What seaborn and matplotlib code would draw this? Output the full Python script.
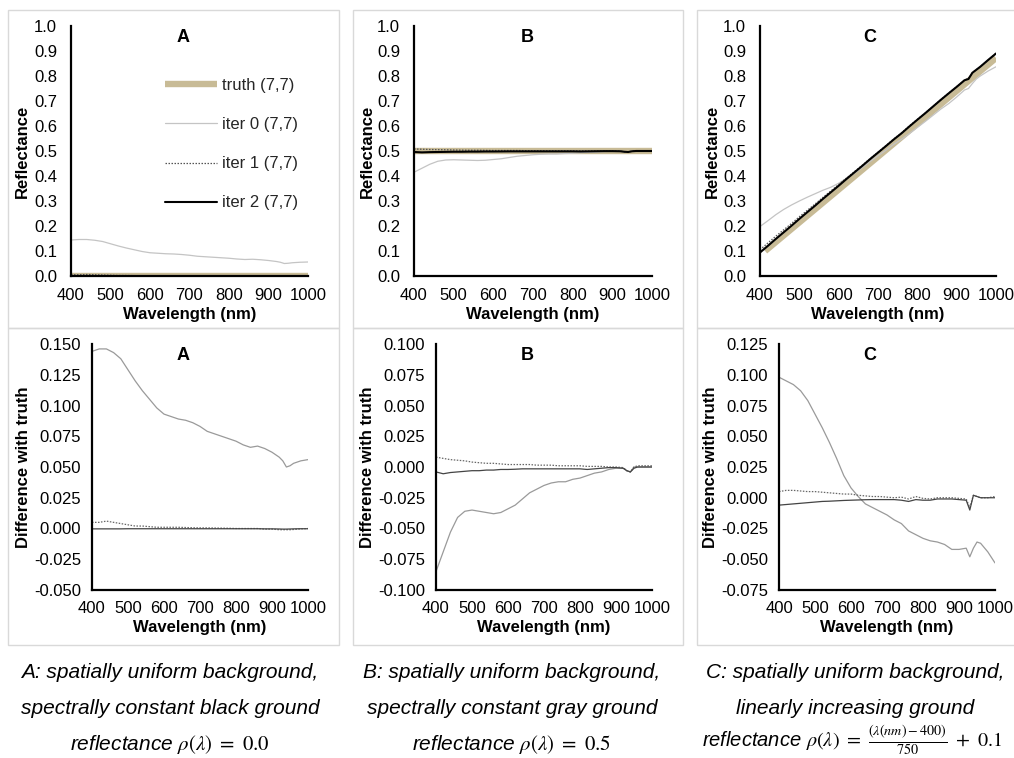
import matplotlib
matplotlib.use("Agg")
import matplotlib.pyplot as plt
from matplotlib.patches import Rectangle
from matplotlib.ticker import FormatStrFormatter, MultipleLocator
import seaborn as sns

# ---------------------------------------------------------------- data
wl = [400, 420, 440, 460, 480, 500, 520, 540, 560, 580, 600, 620, 640, 660, 680,
      700, 720, 740, 760, 780, 800, 820, 840, 860, 880, 900, 920, 930, 940, 950,
      960, 980, 1000]

# ground reflectance (truth) per scene
truth_A_wl = [400, 1000]
truth_A = [0.0, 0.0]
truth_B_wl = [400, 1000]
truth_B = [0.5, 0.5]
truth_C_wl = [413, 1000]
truth_C = [0.100, 0.872]

# linearly increasing ground of scene C, sampled at wl
ground_C = [0.100, 0.126, 0.153, 0.179, 0.205, 0.232, 0.258, 0.284, 0.311, 0.337,
            0.363, 0.390, 0.416, 0.442, 0.469, 0.495, 0.521, 0.548, 0.574, 0.600,
            0.627, 0.653, 0.679, 0.706, 0.732, 0.758, 0.785, 0.798, 0.811, 0.824,
            0.837, 0.864, 0.890]

# retrieved minus truth, pixel (7,7)
diff_A_iter0 = [0.144, 0.146, 0.146, 0.143, 0.138, 0.129, 0.120, 0.112, 0.105, 0.098,
                0.093, 0.091, 0.089, 0.088, 0.086, 0.083, 0.079, 0.077, 0.075, 0.073,
                0.071, 0.068, 0.066, 0.067, 0.065, 0.062, 0.058, 0.055, 0.050, 0.051,
                0.053, 0.055, 0.056]
diff_A_iter1 = [0.005, 0.005, 0.006, 0.005, 0.004, 0.003, 0.002, 0.002, 0.0015, 0.001,
                0.001, 0.001, 0.001, 0.0008, 0.0006, 0.0005, 0.0005, 0.0004, 0.0003, 0.0002,
                0.0, 0.0, 0.0, 0.0, -0.0005, -0.0005, -0.001, -0.001, -0.001, -0.001,
                -0.0008, -0.0003, 0.0]
diff_A_iter2 = [-0.0003, -0.0003, -0.0003, -0.0003, -0.0003, -0.0002, -0.0002, -0.0002,
                -0.0002, -0.0002, -0.0002, -0.0002, -0.0002, -0.0002, -0.0002, -0.0002,
                -0.0002, -0.0002, -0.0002, -0.0002, -0.0002, -0.0002, -0.0002, -0.0002,
                -0.0003, -0.0003, -0.0004, -0.0005, -0.0005, -0.0004, -0.0003, -0.0002,
                -0.0002]

diff_B_iter0 = [-0.085, -0.069, -0.053, -0.041, -0.036, -0.035, -0.036, -0.037, -0.038, -0.037,
                -0.034, -0.031, -0.026, -0.021, -0.018, -0.015, -0.013, -0.012, -0.012, -0.010,
                -0.009, -0.007, -0.005, -0.004, -0.002, -0.001, -0.001, -0.003, -0.004, 0.000,
                0.000, 0.000, 0.000]
diff_B_iter1 = [0.008, 0.007, 0.006, 0.0055, 0.005, 0.004, 0.0035, 0.003, 0.003, 0.0025,
                0.002, 0.002, 0.002, 0.002, 0.0015, 0.0015, 0.0015, 0.001, 0.001, 0.001,
                0.001, 0.0005, 0.0005, 0.0005, 0.0, 0.0, -0.0005, -0.003, -0.004, 0.000,
                0.001, 0.001, 0.001]
diff_B_iter2 = [-0.004, -0.0055, -0.0045, -0.004, -0.0035, -0.003, -0.003, -0.0025, -0.0025, -0.002,
                -0.002, -0.0018, -0.0015, -0.0015, -0.0015, -0.0015, -0.0015, -0.0015, -0.0015, -0.0015,
                -0.0015, -0.002, -0.0015, -0.001, -0.0005, -0.0005, -0.001, -0.003, -0.004, -0.001,
                0.000, 0.000, 0.000]

diff_C_iter0 = [0.098, 0.095, 0.092, 0.087, 0.079, 0.068, 0.057, 0.045, 0.032, 0.018,
                0.008, 0.001, -0.005, -0.008, -0.011, -0.014, -0.018, -0.021, -0.027, -0.030,
                -0.033, -0.035, -0.036, -0.038, -0.042, -0.042, -0.041, -0.048, -0.041, -0.036,
                -0.037, -0.044, -0.053]
diff_C_iter1 = [0.005, 0.006, 0.006, 0.0055, 0.005, 0.005, 0.0045, 0.004, 0.0035, 0.003,
                0.003, 0.002, 0.0015, 0.001, 0.001, 0.0005, 0.0, 0.0005, -0.001, 0.001,
                -0.0005, -0.001, 0.0, 0.0, 0.0, -0.0005, -0.001, -0.008, 0.002, 0.001,
                0.000, 0.000, 0.001]
diff_C_iter2 = [-0.006, -0.0055, -0.005, -0.0045, -0.004, -0.0035, -0.003, -0.0028, -0.0025, -0.0022,
                -0.002, -0.0018, -0.0016, -0.0015, -0.0015, -0.0015, -0.0015, -0.002, -0.003, -0.0015,
                -0.002, -0.002, -0.001, -0.001, -0.001, -0.0015, -0.002, -0.010, 0.002, 0.001,
                0.000, 0.000, 0.000]

legend_labels = ["truth (7,7)", "iter 0 (7,7)", "iter 1 (7,7)", "iter 2 (7,7)"]
panel_letters = ["A", "B", "C"]
wl_ticks = [400, 500, 600, 700, 800, 900, 1000]
diff_limits = [(-0.05, 0.15), (-0.1, 0.1), (-0.075, 0.125)]

captions = [
    ["A: spatially uniform background,",
     "spectrally constant black ground",
     r"reflectance $\rho(\lambda)\ =\ 0.0$"],
    ["B: spatially uniform background,",
     "spectrally constant gray ground",
     r"reflectance $\rho(\lambda)\ =\ 0.5$"],
    ["C: spatially uniform background,",
     "linearly increasing ground",
     r"reflectance $\rho(\lambda)\ =\ \frac{(\lambda(nm)-400)}{750}\ +\ 0.1$"],
]

# reflectance of each scene at wl, for use in the top row
base_A = [0.0] * len(wl)
base_B = [0.5] * len(wl)
scenes = [
    (truth_A_wl, truth_A, base_A, (diff_A_iter0, diff_A_iter1, diff_A_iter2)),
    (truth_B_wl, truth_B, base_B, (diff_B_iter0, diff_B_iter1, diff_B_iter2)),
    (truth_C_wl, truth_C, ground_C, (diff_C_iter0, diff_C_iter1, diff_C_iter2)),
]

# ---------------------------------------------------------------- style
sns.set_theme(style="white")
plt.rcParams["font.family"] = ["Liberation Sans", "DejaVu Sans"]
plt.rcParams["mathtext.fontset"] = "stix"
plt.rcParams["axes.unicode_minus"] = False

TRUTH = "#c8bb96"
TICK_FS = 12
LABEL_FS = 12
W, H = 1014, 758
fig = plt.figure(figsize=(W / 100, H / 100), dpi=100)
fig.patch.set_facecolor("white")


def add_px_axes(left, top, right, bottom):
    return fig.add_axes([left / W, 1 - bottom / H, (right - left) / W, (bottom - top) / H])


def style_axes(ax):
    for side in ("top", "right"):
        ax.spines[side].set_visible(False)
    for side in ("left", "bottom"):
        ax.spines[side].set_color("black")
        ax.spines[side].set_linewidth(1.6)
    ax.set_facecolor("none")
    ax.grid(False)
    ax.tick_params(axis="both", length=0, labelsize=TICK_FS, colors="black")
    ax.set_xlim(400, 1000)
    ax.set_xticks(wl_ticks)


# panel frames
col_frames = [(8, 339), (353, 683), (697, 1022)]
row_frames = [(10, 328), (328, 645)]
for x0, x1 in col_frames:
    for y0, y1 in row_frames:
        fig.patches.append(Rectangle((x0 / W, 1 - y1 / H), (x1 - x0) / W, (y1 - y0) / H,
                                     transform=fig.transFigure, fill=False,
                                     edgecolor="#d9d9d9", linewidth=1.0, zorder=0))

top_cols = [(71, 308), (414, 652), (760, 996)]
bot_cols = [(92, 308), (436, 652), (779, 995)]
ylabel_right = [(30, 31), (375, 375), (720, 718)]
letter_x = [183, 527, 870]

for i, (t_wl, t_val, base, diffs) in enumerate(scenes):
    # ---- reflectance
    ax = add_px_axes(top_cols[i][0], 26, top_cols[i][1], 276)
    sns.lineplot(x=t_wl, y=t_val, ax=ax, color=TRUTH, linewidth=4.6,
                 solid_capstyle="butt", legend=False, label=legend_labels[0])
    series = [[b + d for b, d in zip(base, dv)] for dv in diffs]
    sns.lineplot(x=wl, y=series[0], ax=ax, color="#c4c4c4", linewidth=0.9,
                 legend=False, label=legend_labels[1])
    sns.lineplot(x=wl, y=series[1], ax=ax, color="#555555", linewidth=0.9,
                 linestyle=(0, (1.2, 1.2)), legend=False, label=legend_labels[2])
    sns.lineplot(x=wl, y=series[2], ax=ax, color="black", linewidth=1.5,
                 legend=False, label=legend_labels[3])
    style_axes(ax)
    ax.set_ylim(0, 1.0)
    ax.yaxis.set_major_locator(MultipleLocator(0.1))
    ax.yaxis.set_major_formatter(FormatStrFormatter("%.1f"))
    ax.tick_params(axis="y", pad=10)
    ax.tick_params(axis="x", pad=9)
    ax.set_xlabel("Wavelength (nm)", fontsize=LABEL_FS, fontweight="bold", color="black")
    ax.set_ylabel("Reflectance", fontsize=LABEL_FS, fontweight="bold", color="black")
    w = top_cols[i][1] - top_cols[i][0]
    ax.xaxis.set_label_coords(0.5, -(307 - 276) / 250)
    ax.yaxis.set_label_coords((ylabel_right[i][0] - top_cols[i][0]) / w, 0.5)
    fig.text(letter_x[i] / W, 1 - 37 / H, panel_letters[i], ha="center", va="center",
             fontsize=13, fontweight="bold", color="black")
    if i == 0:
        ax.legend(loc="upper left", bbox_to_anchor=(165 / W, 1 - 78 / H),
                  bbox_transform=fig.transFigure, frameon=False, fontsize=LABEL_FS,
                  handlelength=3.1, handletextpad=0.3, labelspacing=1.45,
                  borderpad=0, borderaxespad=0)
    else:
        leg = ax.get_legend()
        if leg is not None:
            leg.remove()

    # ---- difference with truth
    ax = add_px_axes(bot_cols[i][0], 344, bot_cols[i][1], 590)
    sns.lineplot(x=wl, y=diffs[0], ax=ax, color="#9a9a9a", linewidth=0.9, legend=False)
    sns.lineplot(x=wl, y=diffs[1], ax=ax, color="#666666", linewidth=0.9,
                 linestyle=(0, (1.2, 1.2)), legend=False)
    sns.lineplot(x=wl, y=diffs[2], ax=ax, color="#444444", linewidth=0.9, legend=False)
    style_axes(ax)
    ax.set_ylim(*diff_limits[i])
    ax.yaxis.set_major_locator(MultipleLocator(0.025))
    ax.yaxis.set_major_formatter(FormatStrFormatter("%.3f"))
    ax.tick_params(axis="y", pad=8)
    ax.tick_params(axis="x", pad=8)
    ax.set_xlabel("Wavelength (nm)", fontsize=LABEL_FS, fontweight="bold", color="black")
    ax.set_ylabel("Difference with truth", fontsize=LABEL_FS, fontweight="bold", color="black")
    w = bot_cols[i][1] - bot_cols[i][0]
    ax.xaxis.set_label_coords(0.5, -(620 - 590) / 246)
    ax.yaxis.set_label_coords((ylabel_right[i][1] - bot_cols[i][0]) / w, 0.5)
    fig.text(letter_x[i] / W, 1 - 355 / H, panel_letters[i], ha="center", va="center",
             fontsize=13, fontweight="bold", color="black")

# ---------------------------------------------------------------- captions
cap_x = [170, 512, 855]
cap_y = [672, 708, 744]
for col, (cx, lines) in enumerate(zip(cap_x, captions)):
    for row, (cy, line) in enumerate(zip(cap_y, lines)):
        wide = col == 2 and row == 2
        fig.text((cx - 3 if wide else cx) / W, 1 - (cy - 4 if wide else cy) / H, line,
                 ha="center", va="center",
                 fontsize=14.5 if wide else 15, fontstyle="italic", color="black",
                 family=["Liberation Sans", "DejaVu Sans"])

fig.savefig("out.png", dpi=100, facecolor="white")
